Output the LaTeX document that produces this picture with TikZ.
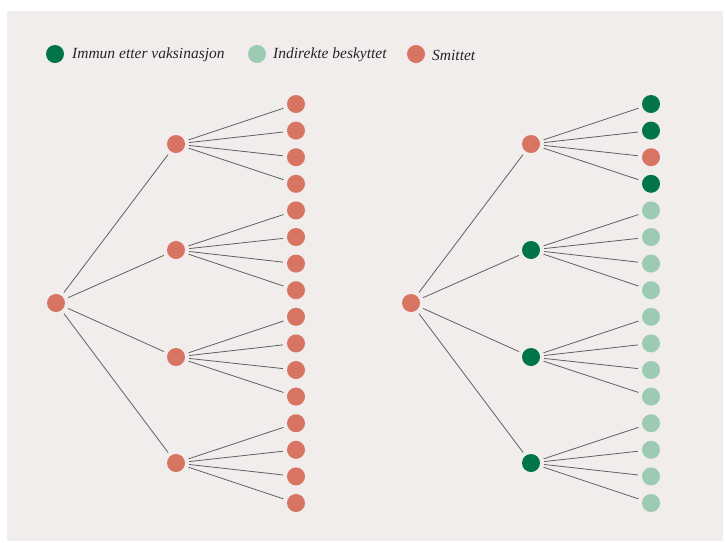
\documentclass[tikz,border=0pt]{standalone}
\usepackage{fontspec}
\setmainfont{Liberation Serif}
\definecolor{bgc}{HTML}{F1EDEC}
\definecolor{dgreen}{HTML}{00754A}
\definecolor{lgreen}{HTML}{9CCAB2}
\definecolor{salmon}{HTML}{D77562}
\definecolor{linec}{HTML}{606060}
\begin{document}
\begin{tikzpicture}[x=1pt,y=-1pt,
  dot/.style={circle,inner sep=0pt,minimum size=18pt,fill=#1},
  edge/.style={draw=linec,line width=0.8pt,shorten <=4pt,shorten >=4pt},
  legtext/.style={anchor=west,inner sep=0pt,font=\itshape\fontsize{15.5}{15.5}\selectfont,text=black!85}]
\useasboundingbox (0,0) rectangle (725,542);
\fill[bgc] (7,11) rectangle (723,541);
% legend
\node[dot=dgreen] (l1) at (55,54) {};
\node[legtext] (t1) at (72,55) {Immun etter vaksinasjon};
\node[dot=lgreen] (l2) at (257,54) {};
\node[legtext] (t2) at (273,55) {Indirekte beskyttet};
\node[dot=salmon] (l3) at (416,54) {};
\node[legtext] (t3) at (432,55) {Smittet};
% left tree
\node[dot=salmon] (A) at (56,303) {};
\foreach \i/\y in {1/144,2/250,3/357,4/463}{
  \node[dot=salmon] (A\i) at (176,\y) {};
  \path[edge] (A) -- (A\i);
}
\foreach \j in {1,...,16}{
  \pgfmathsetmacro{\yy}{104+(\j-1)*26.6}
  \node[dot=salmon] (AL\j) at (296,\yy) {};
}
\foreach \i in {1,...,4}{
  \foreach \k in {1,...,4}{
    \pgfmathtruncatemacro{\j}{(\i-1)*4+\k}
    \path[edge] (A\i) -- (AL\j);
  }
}
% right tree
\node[dot=salmon] (B) at (411,303) {};
\foreach \i/\y/\c in {1/144/salmon,2/250/dgreen,3/357/dgreen,4/463/dgreen}{
  \node[dot=\c] (B\i) at (531,\y) {};
  \path[edge] (B) -- (B\i);
}
\foreach \j/\c in {1/dgreen,2/dgreen,3/salmon,4/dgreen,5/lgreen,6/lgreen,7/lgreen,8/lgreen,9/lgreen,10/lgreen,11/lgreen,12/lgreen,13/lgreen,14/lgreen,15/lgreen,16/lgreen}{
  \pgfmathsetmacro{\yy}{104+(\j-1)*26.6}
  \node[dot=\c] (BL\j) at (651,\yy) {};
}
\foreach \i in {1,...,4}{
  \foreach \k in {1,...,4}{
    \pgfmathtruncatemacro{\j}{(\i-1)*4+\k}
    \path[edge] (B\i) -- (BL\j);
  }
}
\end{tikzpicture}
\end{document}
